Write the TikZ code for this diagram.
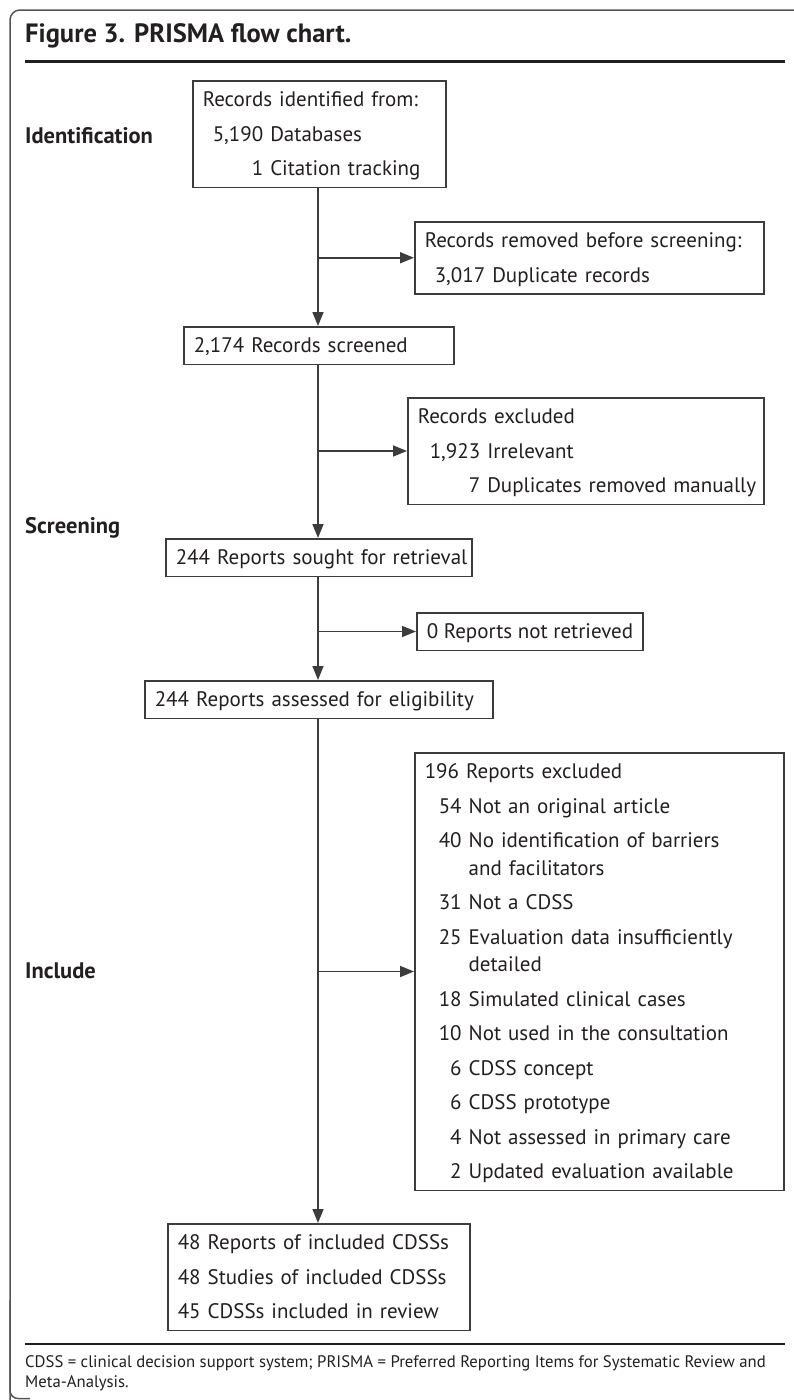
\documentclass[tikz,border=0pt]{standalone}
\usepackage{fontspec}
\setmainfont{PT Sans}
\usetikzlibrary{arrows.meta}
\definecolor{ink}{HTML}{231F20}
\definecolor{edgec}{HTML}{3C3C3C}
\definecolor{framec}{HTML}{555555}
\newcommand\lnA{\rule[-10pt]{0pt}{34.5pt}}
\newcommand\lnW{\rule[-10pt]{0pt}{27.5pt}}
\renewcommand\arraystretch{0}
\hbadness=10000 \hfuzz=50pt
\tikzset{
  box/.style={draw=edgec, line width=1.5pt, inner xsep=10pt, inner ysep=1.5pt,
    anchor=north west, align=left, text=ink,
    font=\fontsize{21}{34}\selectfont},
  arr/.style={draw=edgec, line width=1.6pt, -{Triangle[length=14pt,width=11pt]}},
  lab/.style={anchor=base west, inner sep=0pt, text=ink,
    font=\fontsize{22.5}{26}\selectfont\bfseries},
}
\begin{document}
\begin{tikzpicture}[x=1pt,y=-1pt]
\useasboundingbox (0,0) rectangle (793,1400);
\fill[white] (0,0) rectangle (793,1400);
\draw[framec, line width=1.5pt, rounded corners=10pt] (10,1410) -- (10,10) -- (820,10);
\draw[framec, line width=1.5pt, rounded corners=8pt] (30,1398.5) -- (10,1398.5) -- (10,1300);
\node[anchor=base west, inner sep=0pt, text=ink, font=\fontsize{26.5}{30}\selectfont\bfseries] (title) at (25,42) {Figure 3. PRISMA flow chart.};
\draw[ink, line width=3.5pt] (25,61.5) -- (785,61.5);

\node[lab] (lid) at (25,143) {Identification};
\node[lab] (lsc) at (25,533) {Screening};
\node[lab] (lin) at (25,978) {Include};

\coordinate (sp) at (318,0);

\node[box, text width=233pt] (ident) at (192,80) {\begin{tabular}{@{}r@{\ }l@{}}
\multicolumn{2}{@{}l@{}}{\lnA Records identified from:}\\
\lnA\hspace*{10pt}5,190 & Databases\\
\lnA 1 & Citation tracking
\end{tabular}};

\node[box, text width=329pt] (removed) at (414,221) {\begin{tabular}{@{}r@{\ }l@{}}
\multicolumn{2}{@{}l@{}}{\lnA Records removed before screening:}\\
\lnA\hspace*{10pt}3,017 & Duplicate records
\end{tabular}};

\node[box, text width=250pt] (screened) at (183,326) {\begin{tabular}{@{}l@{}}\lnA 2,174 Records screened\end{tabular}};

\node[box, text width=336pt] (excl) at (407,397) {\begin{tabular}{@{}r@{\ }l@{}}
\multicolumn{2}{@{}l@{}}{\lnA Records excluded}\\
\lnA\hspace*{12pt}1,923 & Irrelevant\\
\lnA 7 & Duplicates removed manually
\end{tabular}};

\node[box, text width=286pt, inner xsep=10pt] (sought) at (165,538) {\begin{tabular}{@{}l@{}}\lnA 244 Reports sought for retrieval\end{tabular}};

\node[box] (notret) at (416,612) {\begin{tabular}{@{}l@{}}\lnA 0 Reports not retrieved\end{tabular}};

\node[box, text width=328pt] (assess) at (144,680) {\begin{tabular}{@{}l@{}}\lnA 244 Reports assessed for eligibility\end{tabular}};

\node[box, text width=349pt] (repex) at (414,752) {\begin{tabular}{@{}r@{\ }l@{}}
\multicolumn{2}{@{}l@{}}{\lnA 196 Reports excluded}\\
\lnA\hspace*{14pt}54 & Not an original article\\
\lnA 40 & No identification of barriers\\
\lnW & and facilitators\\
\lnA 31 & Not a CDSS\\
\lnA 25 & Evaluation data insufficiently\\
\lnW & detailed\\
\lnA 18 & Simulated clinical cases\\
\lnA 10 & Not used in the consultation\\
\lnA 6 & CDSS concept\\
\lnA 6 & CDSS prototype\\
\lnA 4 & Not assessed in primary care\\
\lnA 2 & Updated evaluation available
\end{tabular}};

\node[box, text width=282pt] (final) at (167,1223) {\begin{tabular}{@{}l@{}}
\lnA 48 Reports of included CDSSs\\
\lnA 48 Studies of included CDSSs\\
\lnA 45 CDSSs included in review
\end{tabular}};

\draw[arr] (ident.south -| sp) -- (screened.north -| sp);
\draw[arr] (removed.west -| sp) -- (removed.west);
\draw[arr] (screened.south -| sp) -- (sought.north -| sp);
\draw[arr] (excl.west -| sp) -- (excl.west);
\draw[arr] (sought.south -| sp) -- (assess.north -| sp);
\draw[arr] (notret.west -| sp) -- (notret.west);
\draw[arr] (assess.south -| sp) -- (final.north -| sp);
\draw[arr] (repex.west -| sp) -- (repex.west);

\draw[ink, line width=1.3pt] (25,1344) -- (785,1344);
\node[anchor=base west, inner sep=0pt, align=left, text=ink, font=\fontsize{16.7}{20}\selectfont] (foot) at (25,1387) {CDSS = clinical decision support system; PRISMA = Preferred Reporting Items for Systematic Review and\\Meta-Analysis.};
\end{tikzpicture}
\end{document}
